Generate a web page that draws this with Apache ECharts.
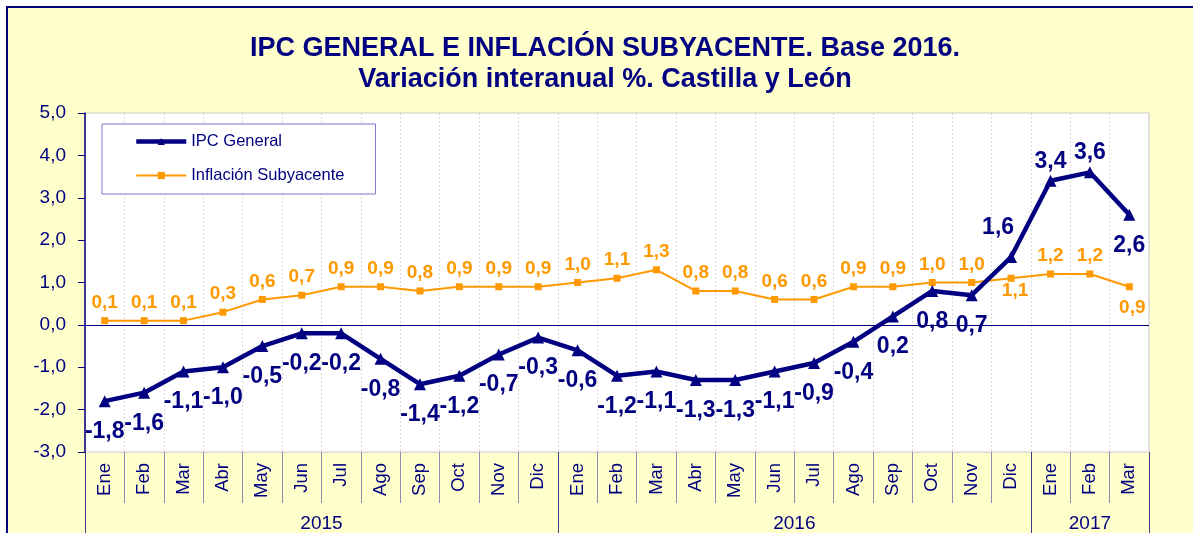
<!DOCTYPE html>
<html>
<head>
<meta charset="utf-8">
<script src="https://cdn.jsdelivr.net/npm/echarts@6/dist/echarts.min.js"></script>
<style>
  html, body { margin: 0; padding: 0; background: #ffffff; width: 1193px; height: 533px; overflow: hidden; }
  #frame { position: absolute; left: 6px; top: 6px; width: 1200px; height: 540px; background: #FFFFCC; border-left: 2px solid #000080; border-top: 2px solid #000080; box-sizing: border-box; }
  #chart { position: absolute; left: 0; top: 0; width: 1193px; height: 533px; }
</style>
</head>
<body>
<div id="frame"></div>
<div id="chart"></div>
<script>
// ---- data ----
const titleLines = ['IPC GENERAL E INFLACIÓN SUBYACENTE. Base 2016.', 'Variación interanual %. Castilla y León'];
const months = ['Ene','Feb','Mar','Abr','May','Jun','Jul','Ago','Sep','Oct','Nov','Dic',
                'Ene','Feb','Mar','Abr','May','Jun','Jul','Ago','Sep','Oct','Nov','Dic',
                'Ene','Feb','Mar'];
const years = ['2015', '2016', '2017'];
const monthsPerYear = [12, 12, 3];
const seriesNames = ['IPC General', 'Inflación Subyacente'];
const ipcGeneral = [-1.8, -1.6, -1.1, -1.0, -0.5, -0.2, -0.2, -0.8, -1.4, -1.2, -0.7, -0.3,
                    -0.6, -1.2, -1.1, -1.3, -1.3, -1.1, -0.9, -0.4, 0.2, 0.8, 0.7, 1.6,
                    3.4, 3.6, 2.6];
const subyacente = [0.1, 0.1, 0.1, 0.3, 0.6, 0.7, 0.9, 0.9, 0.8, 0.9, 0.9, 0.9,
                    1.0, 1.1, 1.3, 0.8, 0.8, 0.6, 0.6, 0.9, 0.9, 1.0, 1.0, 1.1,
                    1.2, 1.2, 0.9];
const yTicks = { min: -3, max: 5, interval: 1 };

// ---- styling ----
const NAVY = '#000080';
const ORANGE = '#FF9900';
const FONT = "'Liberation Sans', Arial, sans-serif";
const fmt = v => Number(v).toFixed(1).replace('.', ',');

// label overrides (style only)
const ipcLabelOverride = {
  23: { position: 'top', distance: 4, offset: [-13, -8] },
  24: { position: 'top', distance: 2 },
  25: { position: 'top', distance: 2 }
};
const subLabelOverride = {
  23: { position: 'bottom', distance: 0, offset: [4, 0] },
  26: { position: 'bottom', distance: 8, offset: [3, 0] }
};

// year boundaries / centers derived from counts
const yearBounds = [0];
const yearCenters = [];
monthsPerYear.forEach((n, i) => { yearCenters.push(yearBounds[i] + n / 2); yearBounds.push(yearBounds[i] + n); });
const centerToYear = {};
yearCenters.forEach((c, i) => { centerToYear[c] = years[i]; });

const chart = echarts.init(document.getElementById('chart'), null, { renderer: 'canvas' });

const option = {
  backgroundColor: 'transparent',
  animation: false,
  textStyle: { fontFamily: FONT },
  title: {
    text: titleLines.join('\n'),
    left: 600,
    textAlign: 'center',
    top: 28,
    textStyle: { fontFamily: FONT, fontSize: 27, fontWeight: 'bold', color: NAVY, lineHeight: 31 }
  },
  legend: {
    data: [
      { name: seriesNames[0], lineStyle: { width: 4.5 } },
      { name: seriesNames[1], lineStyle: { width: 2 } }
    ],
    orient: 'vertical',
    left: 102,
    top: 124,
    padding: [9, 31, 10, 32],
    itemWidth: 50,
    itemHeight: 9,
    itemGap: 17,
    backgroundColor: '#ffffff',
    borderColor: '#7a7ac8',
    borderWidth: 1,
    borderRadius: 0,
    textStyle: { fontFamily: FONT, fontSize: 16.5, color: NAVY }
  },
  grid: {
    left: 85, right: 44, top: 113, bottom: 81,
    show: true, backgroundColor: '#ffffff', borderColor: '#c8c8c8', borderWidth: 1
  },
  xAxis: [
    {
      type: 'category',
      data: months,
      boundaryGap: true,
      position: 'bottom',
      axisLine: { show: false, onZero: false },
      axisTick: { show: true, interval: 0, length: 51, lineStyle: { color: '#8c8cb4', width: 1 } },
      axisLabel: { interval: 0, rotate: 90, margin: 11, fontSize: 18.5, color: NAVY, fontFamily: FONT },
      splitLine: { show: true, interval: 0, lineStyle: { color: '#d8d8d8', type: [2, 2], width: 1 } }
    },
    {
      type: 'value',
      min: 0,
      max: yearBounds[yearBounds.length - 1],
      position: 'bottom',
      axisLine: { show: false, onZero: false },
      splitLine: { show: false },
      axisTick: { show: true, customValues: yearBounds, length: 95, lineStyle: { color: '#3c3c8c', width: 1 } },
      axisLabel: {
        customValues: yearCenters,
        margin: 62,
        fontSize: 19,
        color: NAVY,
        fontFamily: FONT,
        formatter: v => centerToYear[v] || ''
      }
    }
  ],
  yAxis: {
    type: 'value',
    min: yTicks.min, max: yTicks.max, interval: yTicks.interval,
    axisLine: { show: true, lineStyle: { color: NAVY, width: 1.5 } },
    axisTick: { show: true, length: 7, lineStyle: { color: NAVY, width: 1 } },
    axisLabel: { formatter: fmt, fontSize: 19, color: NAVY, margin: 19, fontFamily: FONT },
    splitLine: { show: false }
  },
  series: [
    {
      name: seriesNames[0],
      type: 'line',
      xAxisIndex: 0,
      z: 4,
      data: ipcGeneral.map((v, i) => ipcLabelOverride[i] ? { value: v, label: ipcLabelOverride[i] } : v),
      symbol: 'triangle',
      symbolSize: 12,
      itemStyle: { color: NAVY },
      lineStyle: { color: NAVY, width: 4.5 },
      label: {
        show: true, position: 'bottom', distance: 13,
        fontSize: 23, fontWeight: 'bold', color: NAVY, fontFamily: FONT,
        formatter: p => fmt(p.value)
      },
      markLine: {
        silent: true, symbol: 'none', animation: false,
        label: { show: false },
        lineStyle: { color: NAVY, width: 1, type: 'solid' },
        data: [{ yAxis: 0 }]
      }
    },
    {
      name: seriesNames[1],
      type: 'line',
      xAxisIndex: 0,
      z: 3,
      data: subyacente.map((v, i) => subLabelOverride[i] ? { value: v, label: subLabelOverride[i] } : v),
      symbol: 'rect',
      symbolSize: 7,
      itemStyle: { color: ORANGE },
      lineStyle: { color: ORANGE, width: 2 },
      label: {
        show: true, position: 'top', distance: 5,
        fontSize: 19, fontWeight: 'bold', color: ORANGE, fontFamily: FONT,
        formatter: p => fmt(p.value)
      }
    }
  ]
};
chart.setOption(option);
</script>
</body>
</html>
